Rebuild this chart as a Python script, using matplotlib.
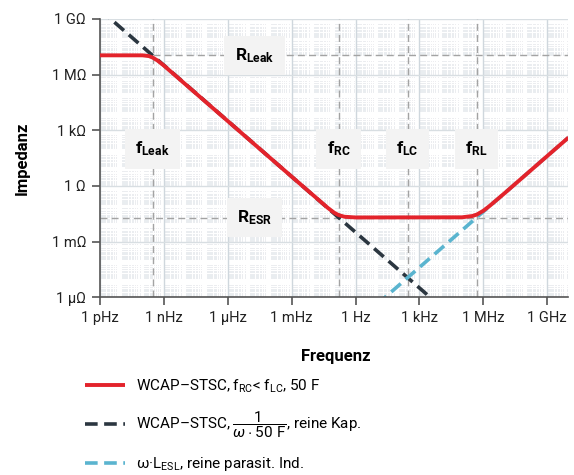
import numpy as np
import matplotlib
matplotlib.use('Agg')
import matplotlib.pyplot as plt

# Schrift
plt.rcParams['font.family'] = ['Roboto', 'DejaVu Sans']
plt.rcParams['mathtext.fontset'] = 'custom'
plt.rcParams['mathtext.rm'] = 'Roboto'
plt.rcParams['mathtext.it'] = 'Roboto:italic'
plt.rcParams['mathtext.bf'] = 'Roboto:bold'

# Daten
red_f = [1e-12, 1e-10, 2e-10, 3e-10, 5e-10, 1e-9, 1e-3, 0.05, 0.1, 0.16, 0.3, 1,
         1e5, 3e5, 5e5, 1e6, 2e6, 1e7, 1e10]
red_z = [1.1e7, 1.1e7, 1.0e7, 8.3e6, 5.8e6, 3.1e6, 3.2, 0.066, 0.036, 0.027, 0.022, 0.0201,
         0.0205, 0.024, 0.029, 0.046, 0.085, 0.41, 410]
cap_f = [1e-12, 1e4]
cap_z = [3.2e9, 3.2e-7]
ind_f = [10, 1e10]
ind_z = [4.1e-7, 410]

f_leak, f_rc, f_lc, f_rl = 3e-10, 0.16, 280, 4.9e5
r_leak, r_esr = 1.1e7, 0.02

x_ticks = [1e-12, 1e-9, 1e-6, 1e-3, 1, 1e3, 1e6, 1e9]
x_labels = ['1 pHz', '1 nHz', '1 µHz', '1 mHz', '1 Hz', '1 kHz', '1 MHz', '1 GHz']
y_ticks = [1e-6, 1e-3, 1, 1e3, 1e6, 1e9]
y_labels = ['1 µΩ', '1 mΩ', '1 Ω', '1 kΩ', '1 MΩ', '1 GΩ']

fig = plt.figure(figsize=(5.74, 4.75), dpi=100)
ax = fig.add_axes([0.1742, 0.3741, 0.8162, 0.5859])
ax.set_xscale('log')
ax.set_yscale('log')
ax.set_xlim(1e-12, 1e10)
ax.set_ylim(1e-6, 1e9)
ax.set_facecolor('#e9edf0')

# feines Raster
minor_x = [m * 10.0 ** k for k in range(-12, 10) for m in range(1, 10)]
minor_y = [m * 10.0 ** k for k in range(-6, 9) for m in range(1, 10)]
for v in minor_x:
    ax.axvline(v, color='white', lw=0.8, zorder=0)
for v in minor_y:
    ax.axhline(v, color='white', lw=0.8, zorder=0)
for v in x_ticks:
    ax.axvline(v, color='#cfd7dd', lw=1.0, zorder=0.5)
for v in y_ticks:
    ax.axhline(v, color='#d8dee2', lw=1.0, zorder=0.5)

# Hilfslinien
gray = '#a3a3a3'
for f in [f_leak, f_rc, f_lc, f_rl]:
    ax.axvline(f, color=gray, lw=1.0, ls=(0, (5, 3)), zorder=1)
ax.plot([f_leak, 1e10], [r_leak, r_leak], color=gray, lw=1.0, ls=(0, (5, 3)), zorder=1)
ax.axhline(r_esr, color=gray, lw=1.0, ls=(0, (5, 3)), zorder=1)

# Kurven
l_cap, = ax.plot(cap_f, cap_z, color='#2b3640', lw=2.6, ls=(0, (3.5, 1.8)), zorder=2)
l_ind, = ax.plot(ind_f, ind_z, color='#5ab4cf', lw=2.6, ls=(0, (3.5, 1.8)), zorder=2)
l_red, = ax.plot(red_f, red_z, color='#e3232b', lw=2.8, zorder=3, solid_capstyle='butt')

# Beschriftungen im Diagramm
box = dict(boxstyle='square,pad=0.6', fc='#f3f3f3', ec='none')
lab_kw = dict(ha='center', va='center', fontsize=12.5, bbox=box, zorder=4)
ax.text(1.8e-5, r_leak, r'$\mathbf{R}_{\mathbf{Leak}}$', **lab_kw)
ax.text(1.8e-5, r_esr, r'$\mathbf{R}_{\mathbf{ESR}}$', **lab_kw)
ax.text(f_leak, 100, r'$\mathbf{f}_{\mathbf{Leak}}$', **lab_kw)
ax.text(f_rc, 100, r'$\mathbf{f}_{\mathbf{RC}}$', **lab_kw)
ax.text(f_lc, 100, r'$\mathbf{f}_{\mathbf{LC}}$', **lab_kw)
ax.text(f_rl, 100, r'$\mathbf{f}_{\mathbf{RL}}$', **lab_kw)

# Achsen
ax.set_xticks(x_ticks)
ax.set_xticklabels(x_labels, fontsize=10.5, color='#222222')
ax.set_yticks(y_ticks)
ax.set_yticklabels(y_labels, fontsize=10.5, color='#222222')
ax.minorticks_off()
ax.tick_params(direction='out', length=6, width=1.2, color='#555555', pad=4)
for s in ['top', 'right']:
    ax.spines[s].set_visible(False)
for s in ['left', 'bottom']:
    ax.spines[s].set_color('#555555')
    ax.spines[s].set_linewidth(1.2)

fig.text(0.585, 0.25, 'Frequenz', ha='center', va='center', fontsize=12, fontweight='bold')
fig.text(0.038, 0.667, 'Impedanz', ha='center', va='center', rotation=90,
         fontsize=12, fontweight='bold')

# Legende
labels = [r'WCAP–STSC, f$_{\mathrm{RC}}$< f$_{\mathrm{LC}}$, 50 F',
          r'WCAP–STSC, $\dfrac{1}{\omega\cdot50\ \mathrm{F}}$, reine Kap.',
          r'ω·L$_{\mathrm{ESL}}$, reine parasit. Ind.']
fig.legend([l_red, l_cap, l_ind], labels, loc='upper left',
           bbox_to_anchor=(0.135, 0.222), frameon=False, fontsize=11,
           handlelength=2.6, handletextpad=0.7, labelspacing=0.98, borderpad=0)

fig.savefig('out.png', dpi=100)
